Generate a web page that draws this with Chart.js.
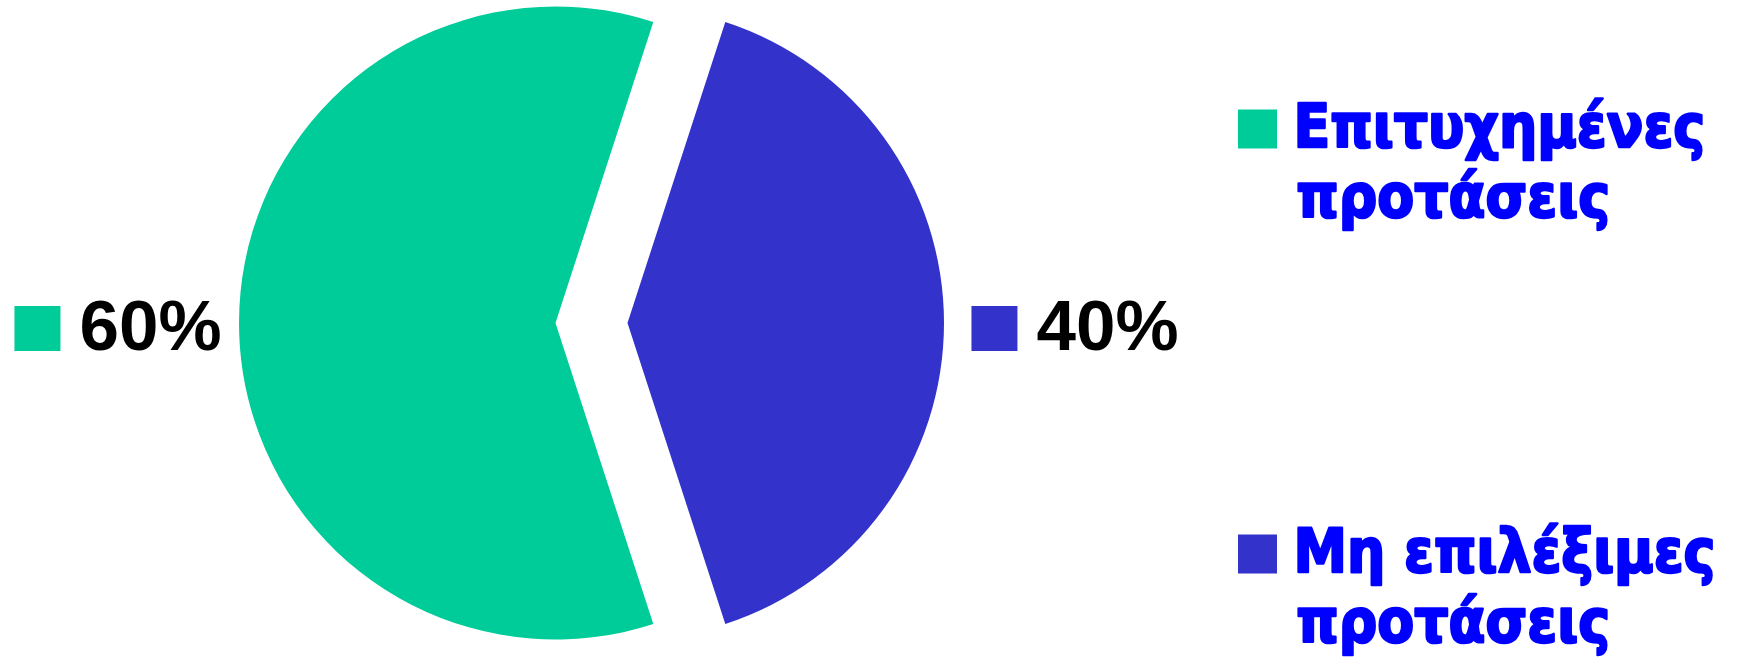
<!DOCTYPE html>
<html>
<head>
<meta charset="utf-8">
<script src="https://cdn.jsdelivr.net/npm/chart.js@4.4.1/dist/chart.umd.min.js"></script>
<style>
  html, body { margin: 0; padding: 0; background: #fff; }
  #wrap { width: 1737px; height: 657px; position: relative; }
</style>
</head>
<body>
<div id="wrap"><canvas id="chart_proposals"></canvas></div>
<script>
// data
var categories = ['Επιτυχημένες προτάσεις', 'Μη επιλέξιμες προτάσεις'];
var shares = [60, 40];
var sliceColors = ['#00CC99', '#3333CC'];

// pulled-apart slices: move each arc along its own mid angle
var explode = 36;
var explodePlugin = {
  id: 'explode',
  afterDatasetUpdate: function (chart, args) {
    args.meta.data.forEach(function (arc) {
      var mid = (arc.startAngle + arc.endAngle) / 2;
      arc.x += Math.cos(mid) * explode;
      arc.y += Math.sin(mid) * explode;
    });
  }
};

// percentage labels with a coloured key square, placed outside each slice
var pctLabelPlugin = {
  id: 'pctLabels',
  afterDatasetsDraw: function (chart) {
    var ctx = chart.ctx;
    var meta = chart.getDatasetMeta(0);
    var total = shares.reduce(function (a, b) { return a + b; }, 0);
    var box = 46, gap = 19;
    ctx.save();
    ctx.font = 'bold 71px "Liberation Sans", Arial, sans-serif';
    ctx.textBaseline = 'alphabetic';
    ctx.textAlign = 'left';
    meta.data.forEach(function (arc, i) {
      var text = Math.round(shares[i] / total * 100) + '%';
      var tw = ctx.measureText(text).width;
      var w = box + gap + tw;
      var mid = (arc.startAngle + arc.endAngle) / 2;
      var cx = arc.x + Math.cos(mid) * (arc.outerRadius + 126) + 5;
      var left = cx - w / 2;
      ctx.fillStyle = sliceColors[i];
      ctx.fillRect(left, arc.y - 17, box, 45);
      ctx.fillStyle = '#000000';
      ctx.fillText(text, left + box + gap, arc.y + 27);
    });
    ctx.restore();
  }
};

// legend on the right, two lines per entry
var legendBoxX = 1238, legendBox = 39, legendTextX = 1297;
var legendBaselines = [148, 573], legendLineHeight = 70, legendFirstWidth = 406;
var sideLegendPlugin = {
  id: 'sideLegend',
  afterDraw: function (chart) {
    var ctx = chart.ctx;
    ctx.save();
    ctx.font = 'bold 60px "DejaVu Sans", Verdana, sans-serif';
    ctx.textBaseline = 'alphabetic';
    ctx.textAlign = 'left';
    ctx.lineJoin = 'round';
    ctx.lineWidth = 2.5;
    var firstLine = categories[0].slice(0, categories[0].lastIndexOf(' '));
    var m0 = ctx.measureText(firstLine);
    var sx = (legendFirstWidth - 2) / (m0.actualBoundingBoxRight + m0.actualBoundingBoxLeft);
    categories.forEach(function (label, i) {
      var cut = label.lastIndexOf(' ');
      var lines = [label.slice(0, cut), label.slice(cut + 1)];
      var base = legendBaselines[i];
      ctx.fillStyle = sliceColors[i];
      ctx.fillRect(legendBoxX, base - 38.5, legendBox, legendBox);
      ctx.fillStyle = '#0000FF';
      ctx.strokeStyle = '#0000FF';
      lines.forEach(function (line, j) {
        var m = ctx.measureText(line);
        ctx.save();
        ctx.translate(legendTextX + 1, base - 1 + j * legendLineHeight);
        ctx.scale(sx, 1);
        ctx.fillText(line, m.actualBoundingBoxLeft, 0);
        ctx.strokeText(line, m.actualBoundingBoxLeft, 0);
        ctx.restore();
      });
    });
    ctx.restore();
  }
};

var chart_proposals = new Chart(document.getElementById('chart_proposals'), {
  type: 'pie',
  data: {
    labels: categories,
    datasets: [{
      data: shares,
      backgroundColor: sliceColors,
      borderWidth: 0,
      hoverOffset: 0,
      offset: 0
    }]
  },
  options: {
    animation: false,
    responsive: true,
    maintainAspectRatio: false,
    rotation: 162,
    events: [],
    layout: {
      padding: { left: 275, right: 829, top: 6, bottom: 17 }
    },
    plugins: {
      legend: { display: false },
      tooltip: { enabled: false }
    }
  },
  plugins: [explodePlugin, pctLabelPlugin, sideLegendPlugin]
});
</script>
</body>
</html>
